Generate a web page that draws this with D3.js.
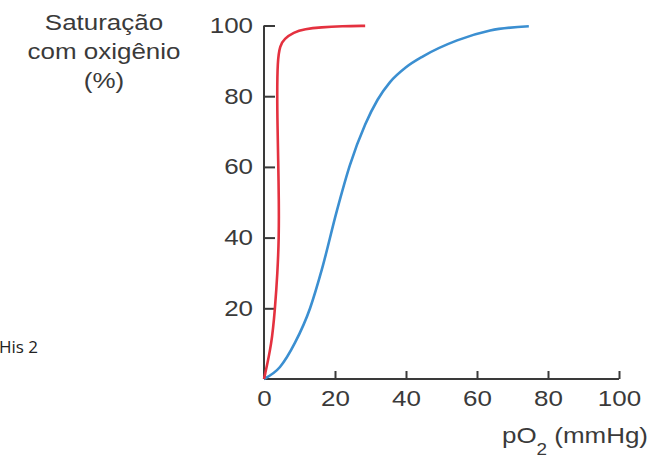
<!DOCTYPE html>
<html>
<head>
<meta charset="utf-8">
<script src="https://cdn.jsdelivr.net/npm/d3@7"></script>
<style>
  body { margin: 0; background: #ffffff; }
  text { fill: #3a3a3a; }
</style>
</head>
<body>
<script>
// curve data: pO2 (mmHg), saturation (%)
const redPO2 = [0, 2.2, 3.1, 3.8, 4.2, 4.2, 4.0, 3.8, 3.7, 3.8, 4.5, 5.7, 8.3, 11.5, 16, 22, 28.5];
const redSat = [0, 10, 20, 30, 40, 50, 62, 72, 80, 90, 94.4, 96.2, 98.1, 99, 99.5, 99.8, 99.9];
const bluePO2 = [0, 4.5, 8.7, 13, 16.3, 20.5, 24.2, 28.5, 32, 35.5, 40, 44.8, 54.4, 63.7, 74.6];
const blueSat = [0, 3.4, 10.2, 20.1, 31, 47.5, 60.5, 72, 79, 84, 88.2, 91.3, 95.8, 98.6, 99.8];
const xTicks = [0, 20, 40, 60, 80, 100];
const yTicks = [20, 40, 60, 80, 100];
const titleLines = ["Saturação", "com oxigênio", "(%)"];

const sx = 1.18; // text in the picture is a bit wide
const font = "Liberation Sans, Arial, sans-serif";

const svg = d3.select("body").append("svg")
    .attr("width", 651)
    .attr("height", 460);

const x = d3.scaleLinear().domain([0, 100]).range([264, 619]);
const y = d3.scaleLinear().domain([0, 100]).range([379, 25.5]);

// y axis, ticks pointing in
const yAxis = svg.append("g")
    .attr("transform", "translate(" + x(0) + ",0)")
    .call(d3.axisLeft(y).tickValues(yTicks).tickSizeInner(-11).tickSizeOuter(0).tickPadding(11));
yAxis.select(".domain").attr("d", "M0," + y(0) + "V" + y(100));

// x axis, ticks pointing up
const xAxis = svg.append("g")
    .attr("transform", "translate(0," + y(0) + ")")
    .call(d3.axisBottom(x).tickValues(xTicks).tickSizeInner(-8).tickSizeOuter(0).tickPadding(11));
xAxis.select(".domain").attr("d", "M" + x(0) + ",0H" + x(100));

svg.selectAll(".domain, .tick line")
    .attr("stroke", "#3a3a3a")
    .attr("stroke-width", 2);
svg.selectAll(".tick text")
    .attr("font-size", 22)
    .attr("font-family", font)
    .attr("fill", "#3a3a3a");
yAxis.selectAll(".tick text")
    .attr("transform", "translate(-11,0) scale(" + sx + ",1)")
    .attr("x", 0);
xAxis.selectAll(".tick text")
    .attr("transform", "scale(" + sx + ",1)");

// curves
const blueLine = d3.line()
    .x(d => x(d[0]))
    .y(d => y(d[1]))
    .curve(d3.curveMonotoneX);

const redLine = d3.line()
    .x(d => x(d[0]))
    .y(d => y(d[1]))
    .curve(d3.curveBasis);

svg.append("path")
    .datum(bluePO2.map((v, i) => [v, blueSat[i]]))
    .attr("d", blueLine)
    .attr("fill", "none")
    .attr("stroke", "#3b8fd1")
    .attr("stroke-width", 2.6);

svg.append("path")
    .datum(redPO2.map((v, i) => [v, redSat[i]]))
    .attr("d", redLine)
    .attr("fill", "none")
    .attr("stroke", "#e4313f")
    .attr("stroke-width", 2.6);

// y title
titleLines.forEach((t, i) => {
  svg.append("text")
      .attr("transform", "translate(104," + (29.5 + i * 29) + ") scale(" + sx + ",1)")
      .attr("text-anchor", "middle")
      .attr("font-family", font)
      .attr("font-size", 22)
      .text(t);
});

// x title
const xt = svg.append("text")
    .attr("transform", "translate(648,443) scale(" + sx + ",1)")
    .attr("text-anchor", "end")
    .attr("font-family", font)
    .attr("font-size", 22);
xt.append("tspan").text("pO");
xt.append("tspan").attr("font-size", 16).attr("dy", 12).text("2");
xt.append("tspan").attr("dy", -12).text(" (mmHg)");

// stray caption at left edge
svg.append("text")
    .attr("x", -1)
    .attr("y", 353)
    .style("font-family", "'Open Sans', sans-serif")
    .style("font-size", "17px")
    .style("fill", "#222")
    .text("His 2");
</script>
</body>
</html>
